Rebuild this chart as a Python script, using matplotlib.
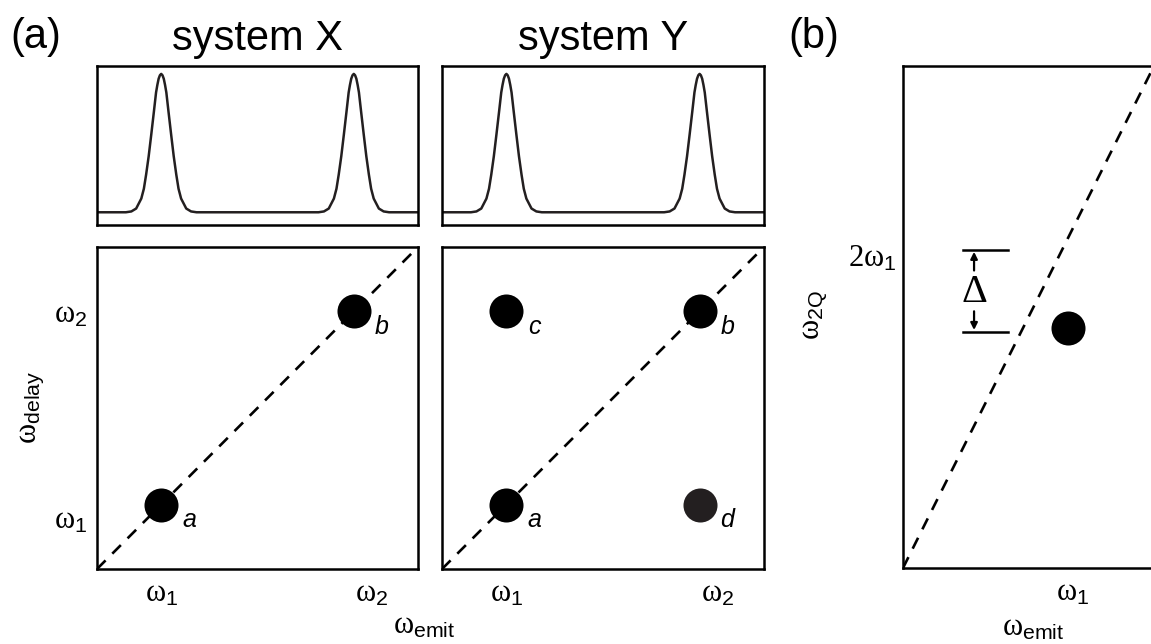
"""
Schematic 2D spectra: system X / system Y (a) and double-quantum map (b).
"""
import matplotlib
matplotlib.use("Agg")
import matplotlib.pyplot as plt

plt.rcParams["font.family"] = "Liberation Sans"
plt.rcParams["mathtext.fontset"] = "custom"
plt.rcParams["mathtext.rm"] = "Liberation Serif"
plt.rcParams["mathtext.sf"] = "Liberation Sans"
plt.rcParams["mathtext.it"] = "Liberation Serif:italic"

# ---- data ---------------------------------------------------------------
SYSTEMS = ["system X", "system Y"]
PEAK_CENTERS = [0.2, 0.8]                      # emission peaks (axis fraction)
# one peak profile: offset from centre -> height
PEAK_DX = [0.0, 0.004, 0.008, 0.012, 0.016, 0.023, 0.031, 0.039, 0.047, 0.054, 0.062, 0.078, 0.093, 0.110]
PEAK_H  = [1.0, 0.99, 0.965, 0.92, 0.866, 0.722, 0.561, 0.405, 0.272, 0.170, 0.099, 0.027, 0.006, 0.0]

# cross peaks in 2D maps
X_PEAKS_X = [0.2, 0.8]
X_PEAKS_Y = [0.2, 0.8]
X_PEAK_LABELS = ["a", "b"]
Y_PEAKS_X = [0.2, 0.8, 0.2, 0.8]
Y_PEAKS_Y = [0.2, 0.8, 0.8, 0.2]
Y_PEAK_LABELS = ["a", "b", "c", "d"]
Y_PEAK_COLORS = ["black", "black", "black", "#231f20"]

TICKS_X = [0.2, 0.855]
TICKS_Y = [0.16, 0.80]
TICK_LABELS = [r"$\mathrm{\omega}_{\mathsf{1}}$", r"$\mathrm{\omega}_{\mathsf{2}}$"]

# panel (b), frequencies in units of omega_1
B_XLIM = (0.0, 1.5)
B_YLIM = (0.0, 2.953)
B_DIAG_X = [0.0, 1.5]
B_DIAG_Y = [0.0, 3.0]
B_PEAK_X = [0.97]
B_PEAK_Y = [1.41]
B_XTICK = [1.0]
B_YTICK = [1.84]
B_DELTA_TOP = 1.87
B_DELTA_BOT = 1.39
B_DELTA_X0 = 0.35
B_DELTA_X1 = 0.62

LW = 1.8
DOT = 24.5
DASH_LW = 1.9
DASHES = (4.6, 3.6)


def spectrum_line():
    xs, ys = [0.0], [0.0]
    for c in PEAK_CENTERS:
        for d, h in zip(PEAK_DX[::-1], PEAK_H[::-1]):
            xs.append(c - d)
            ys.append(h)
        for d, h in zip(PEAK_DX[1:], PEAK_H[1:]):
            xs.append(c + d)
            ys.append(h)
    xs.append(1.0)
    ys.append(0.0)
    return xs, ys


def style_box(ax):
    for s in ax.spines.values():
        s.set_linewidth(LW)
        s.set_edgecolor("black")
    ax.tick_params(length=0, labelsize=22, pad=7)


def place_labels(ax, xpos, ypos):
    ax.xaxis.set_label_coords(*xpos)
    ax.yaxis.set_label_coords(*ypos)
    ax.xaxis.label.set_verticalalignment("center")
    ax.yaxis.label.set_verticalalignment("center")


fig = plt.figure(figsize=(11.51, 6.44), dpi=100)
W, H = 1151.0, 644.0


def box(left, top, right, bottom):
    return [left / W, (H - bottom) / H, (right - left) / W, (bottom - top) / H]


spec_x, spec_y = spectrum_line()
lefts = [(97, 418), (442, 764)]

for (l, r), name in zip(lefts, SYSTEMS):
    ax = fig.add_axes(box(l, 66, r, 225))
    ax.plot(spec_x, spec_y, color="#231f20", lw=LW, solid_joinstyle="round")
    ax.set_xlim(0, 1)
    ax.set_ylim(-0.092, 1.057)
    ax.set_xticks([])
    ax.set_yticks([])
    style_box(ax)
    fig.text((l + r) / 2 / W, 1 - 50 / H, name, ha="center", va="baseline", fontsize=30)

fig.text(36 / W, 1 - 48 / H, "(a)", ha="center", va="baseline", fontsize=30)
fig.text(814 / W, 1 - 48 / H, "(b)", ha="center", va="baseline", fontsize=30)

maps = [
    (lefts[0], X_PEAKS_X, X_PEAKS_Y, X_PEAK_LABELS, ["black"] * 2),
    (lefts[1], Y_PEAKS_X, Y_PEAKS_Y, Y_PEAK_LABELS, Y_PEAK_COLORS),
]
for i, ((l, r), px, py, labs, cols) in enumerate(maps):
    ax = fig.add_axes(box(l, 247, r, 569))
    ax.plot([0, 1], [0, 1], color="black", lw=DASH_LW, dashes=DASHES)
    for x, y, lab, c in zip(px, py, labs, cols):
        ax.plot(x, y, "o", color=c, markersize=DOT, markeredgewidth=0, zorder=4)
        ax.annotate(lab, (x, y), xytext=(20, -11), textcoords="offset points",
                    ha="center", va="center", fontsize=18, style="italic")
    ax.set_xlim(0, 1)
    ax.set_ylim(0, 1)
    ax.set_xticks(TICKS_X)
    ax.set_xticklabels(TICK_LABELS)
    if i == 0:
        ax.set_yticks(TICKS_Y)
        ax.set_yticklabels(TICK_LABELS)
        ax.set_ylabel(r"$\mathrm{\omega}_{\mathsf{delay}}$", fontsize=22)
        ax.set_xlabel(r"$\mathrm{\omega}_{\mathsf{emit}}$", fontsize=22)
        place_labels(ax, (1.02, -0.174), (-0.205, 0.503))
    else:
        ax.set_yticks([])
    style_box(ax)

# panel (b)
axb = fig.add_axes(box(903, 66, 1158, 568))
axb.plot(B_DIAG_X, B_DIAG_Y, color="black", lw=DASH_LW, dashes=DASHES)
axb.plot(B_PEAK_X, B_PEAK_Y, "o", color="black", markersize=DOT, markeredgewidth=0)
for yv in (B_DELTA_TOP, B_DELTA_BOT):
    axb.plot([B_DELTA_X0, B_DELTA_X1], [yv, yv], color="black", lw=1.8)
xm = 0.418
axb.annotate("", xy=(xm, B_DELTA_TOP - 0.01), xytext=(xm, B_DELTA_TOP - 0.12),
             arrowprops=dict(arrowstyle="-|>", lw=1.6, color="black", mutation_scale=10,
                             shrinkA=0, shrinkB=0))
axb.annotate("", xy=(xm, B_DELTA_BOT + 0.01), xytext=(xm, B_DELTA_BOT + 0.12),
             arrowprops=dict(arrowstyle="-|>", lw=1.6, color="black", mutation_scale=10,
                             shrinkA=0, shrinkB=0))
axb.text(xm, (B_DELTA_TOP + B_DELTA_BOT) / 2, r"$\mathrm{\Delta}$", ha="center", va="center",
         fontsize=29, bbox=dict(facecolor="white", edgecolor="none", pad=0))
axb.set_xlim(*B_XLIM)
axb.set_ylim(*B_YLIM)
axb.set_xticks(B_XTICK)
axb.set_xticklabels([r"$\mathrm{\omega}_{\mathsf{1}}$"])
axb.set_yticks(B_YTICK)
axb.set_yticklabels([r"$\mathrm{2\omega}_{\mathsf{1}}$"])
style_box(axb)
axb.tick_params(axis="y", pad=5)
axb.set_xlabel(r"$\mathrm{\omega}_{\mathsf{emit}}$", fontsize=22)
axb.set_ylabel(r"$\mathrm{\omega}_{\mathsf{2Q}}$", fontsize=22)
place_labels(axb, (0.51, -0.118), (-0.345, 0.504))

fig.savefig("out.png", dpi=100, facecolor="white")
